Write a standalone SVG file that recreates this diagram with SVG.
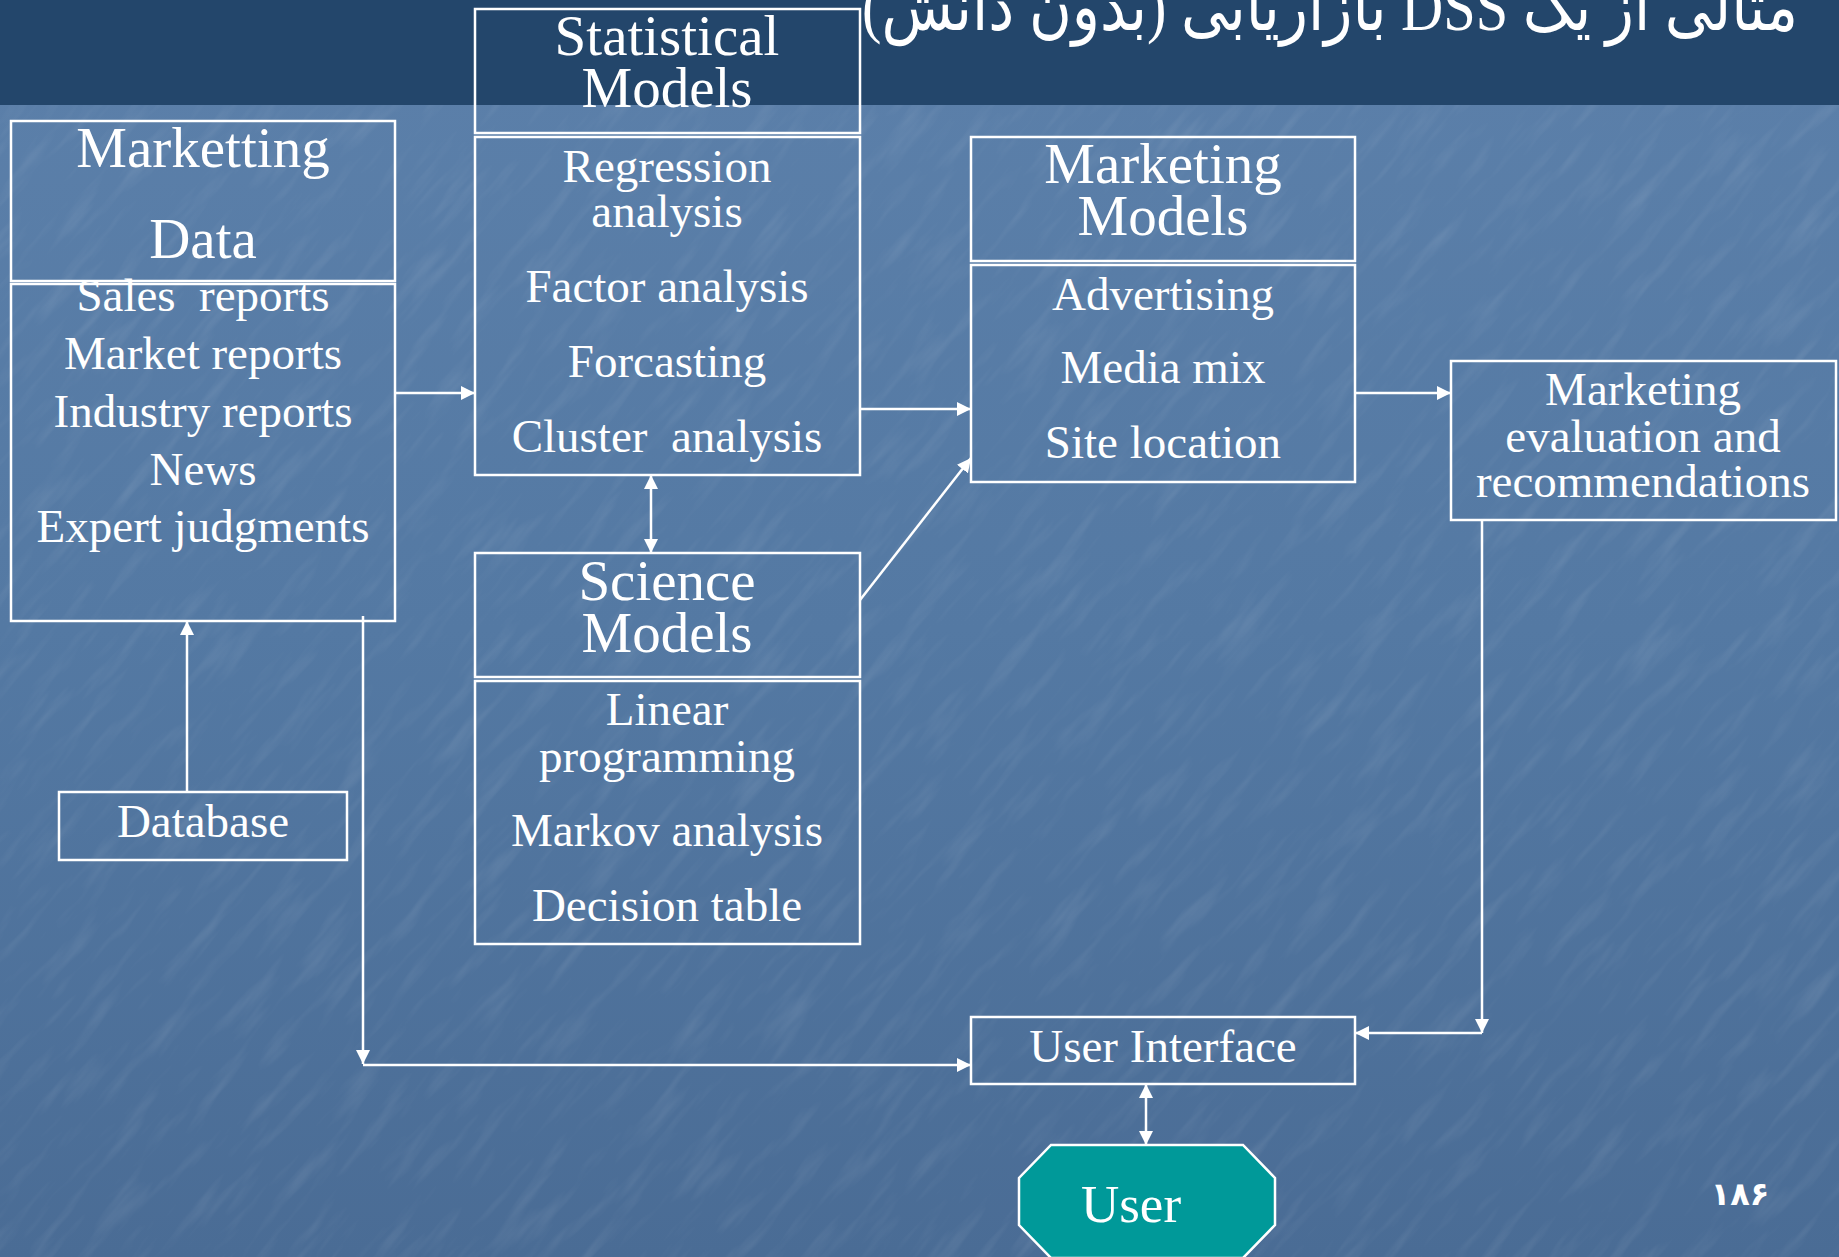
<svg xmlns="http://www.w3.org/2000/svg" width="1839" height="1257" viewBox="0 0 1839 1257">
  <defs>
    <linearGradient id="bodyBg" x1="0" y1="0" x2="0" y2="1">
      <stop offset="0" stop-color="#5c80aa"/>
      <stop offset="0.5" stop-color="#5479a3"/>
      <stop offset="1" stop-color="#4a6c95"/>
    </linearGradient>
    <filter id="rough" x="0" y="0" width="1" height="1" filterUnits="objectBoundingBox">
      <feTurbulence type="fractalNoise" baseFrequency="0.012 0.07" numOctaves="3" seed="7" result="n"/>
      <feColorMatrix in="n" type="matrix" values="0 0 0 0 1  0 0 0 0 1  0 0 0 0 1  1.6 0 0 0 -0.8" />
    </filter>
    <marker id="arrow" viewBox="0 0 14 14" markerUnits="userSpaceOnUse" markerWidth="14" markerHeight="14" refX="14" refY="7" orient="auto-start-reverse">
      <path d="M0,0 L14,7 L0,14 z" fill="#ffffff"/>
    </marker>
    <style>
      .box { fill: none; stroke: #ffffff; stroke-width: 2.5; }
      .link { fill: none; stroke: #ffffff; stroke-width: 2.5; }
      .t { font-family: "Liberation Serif", "Times New Roman", serif; fill: #ffffff; text-anchor: middle; }
      .head { font-size: 57px; }
      .item { font-size: 47px; }
      .fa { font-family: "Liberation Serif", "DejaVu Sans", serif; fill: #ffffff; }
    </style>
  </defs>

  <!-- background -->
  <rect x="0" y="0" width="1839" height="1257" fill="url(#bodyBg)"/>
  <g opacity="0.12">
    <rect x="-600" y="-600" width="3200" height="2600" transform="rotate(-50 920 630)" filter="url(#rough)"/>
  </g>
  <rect x="0" y="0" width="1839" height="105" fill="#23466b"/>

  <!-- title -->
  <text class="fa" x="1330" y="30" font-size="68" text-anchor="middle" direction="rtl" unicode-bidi="embed" textLength="936" lengthAdjust="spacingAndGlyphs">مثالی از یک DSS بازاریابی (بدون دانش)</text>

  <!-- connectors -->
  <g id="connectors">
    <path class="link" d="M395,393 H475" marker-end="url(#arrow)"/>
    <path class="link" d="M860,409 H971" marker-end="url(#arrow)"/>
    <path class="link" d="M651,475 V553" marker-start="url(#arrow)" marker-end="url(#arrow)"/>
    <path class="link" d="M860,600 L971,458" marker-end="url(#arrow)"/>
    <path class="link" d="M1355,393 H1451" marker-end="url(#arrow)"/>
    <path class="link" d="M1482,520 V1033" marker-end="url(#arrow)"/>
    <path class="link" d="M1482,1033 H1355" marker-end="url(#arrow)"/>
    <path class="link" d="M187,792 V621" marker-end="url(#arrow)"/>
    <path class="link" d="M363,616 V1064" marker-end="url(#arrow)"/>
    <path class="link" d="M363,1065 H971" marker-end="url(#arrow)"/>
    <path class="link" d="M1146,1084 V1145" marker-start="url(#arrow)" marker-end="url(#arrow)"/>
  </g>

  <!-- Marketting Data -->
  <g id="marketting-data">
    <rect class="box" x="11" y="121" width="384" height="160"/>
    <rect class="box" x="11" y="284" width="384" height="337"/>
    <text class="t head" x="203" y="167">Marketting</text>
    <text class="t head" x="203" y="258">Data</text>
    <text class="t item" x="203" y="311" xml:space="preserve">Sales  reports</text>
    <text class="t item" x="203" y="369">Market reports</text>
    <text class="t item" x="203" y="427">Industry reports</text>
    <text class="t item" x="203" y="485">News</text>
    <text class="t item" x="203" y="542">Expert judgments</text>
  </g>

  <!-- Statistical Models -->
  <g id="statistical-models">
    <rect class="box" x="475" y="9" width="385" height="124"/>
    <rect class="box" x="475" y="137" width="385" height="338"/>
    <text class="t head" x="667" y="55">Statistical</text>
    <text class="t head" x="667" y="107">Models</text>
    <text class="t item" x="667" y="182">Regression</text>
    <text class="t item" x="667" y="227">analysis</text>
    <text class="t item" x="667" y="302">Factor analysis</text>
    <text class="t item" x="667" y="377">Forcasting</text>
    <text class="t item" x="667" y="452" xml:space="preserve">Cluster  analysis</text>
  </g>

  <!-- Science Models -->
  <g id="science-models">
    <rect class="box" x="475" y="553" width="385" height="124"/>
    <rect class="box" x="475" y="681" width="385" height="263"/>
    <text class="t head" x="667" y="600">Science</text>
    <text class="t head" x="667" y="652">Models</text>
    <text class="t item" x="667" y="725">Linear</text>
    <text class="t item" x="667" y="772">programming</text>
    <text class="t item" x="667" y="846">Markov analysis</text>
    <text class="t item" x="667" y="921">Decision table</text>
  </g>

  <!-- Marketing Models -->
  <g id="marketing-models">
    <rect class="box" x="971" y="137" width="384" height="124"/>
    <rect class="box" x="971" y="265" width="384" height="217"/>
    <text class="t head" x="1163" y="183">Marketing</text>
    <text class="t head" x="1163" y="235">Models</text>
    <text class="t item" x="1163" y="310">Advertising</text>
    <text class="t item" x="1163" y="383">Media mix</text>
    <text class="t item" x="1163" y="458">Site location</text>
  </g>

  <!-- Marketing evaluation and recommendations -->
  <g id="marketing-evaluation">
    <rect class="box" x="1451" y="361" width="385" height="159"/>
    <text class="t item" x="1643" y="405">Marketing</text>
    <text class="t item" x="1643" y="452">evaluation and</text>
    <text class="t item" x="1643" y="497">recommendations</text>
  </g>

  <!-- Database -->
  <g id="database">
    <rect class="box" x="59" y="792" width="288" height="68"/>
    <text class="t item" x="203" y="837">Database</text>
  </g>

  <!-- User Interface -->
  <g id="user-interface">
    <rect class="box" x="971" y="1017" width="384" height="67"/>
    <text class="t item" x="1163" y="1062">User Interface</text>
  </g>

  <!-- User -->
  <g id="user">
    <polygon points="1051,1145 1243,1145 1275,1178 1275,1225 1243,1258 1051,1258 1019,1225 1019,1178" fill="#009999" stroke="#ffffff" stroke-width="2.5"/>
    <text class="t" x="1131" y="1222" font-size="53">User</text>
  </g>

  <!-- page number -->
  <text class="fa" x="1740" y="1205" font-size="32" font-weight="bold" text-anchor="middle" direction="rtl">۱۸۶</text>
</svg>
